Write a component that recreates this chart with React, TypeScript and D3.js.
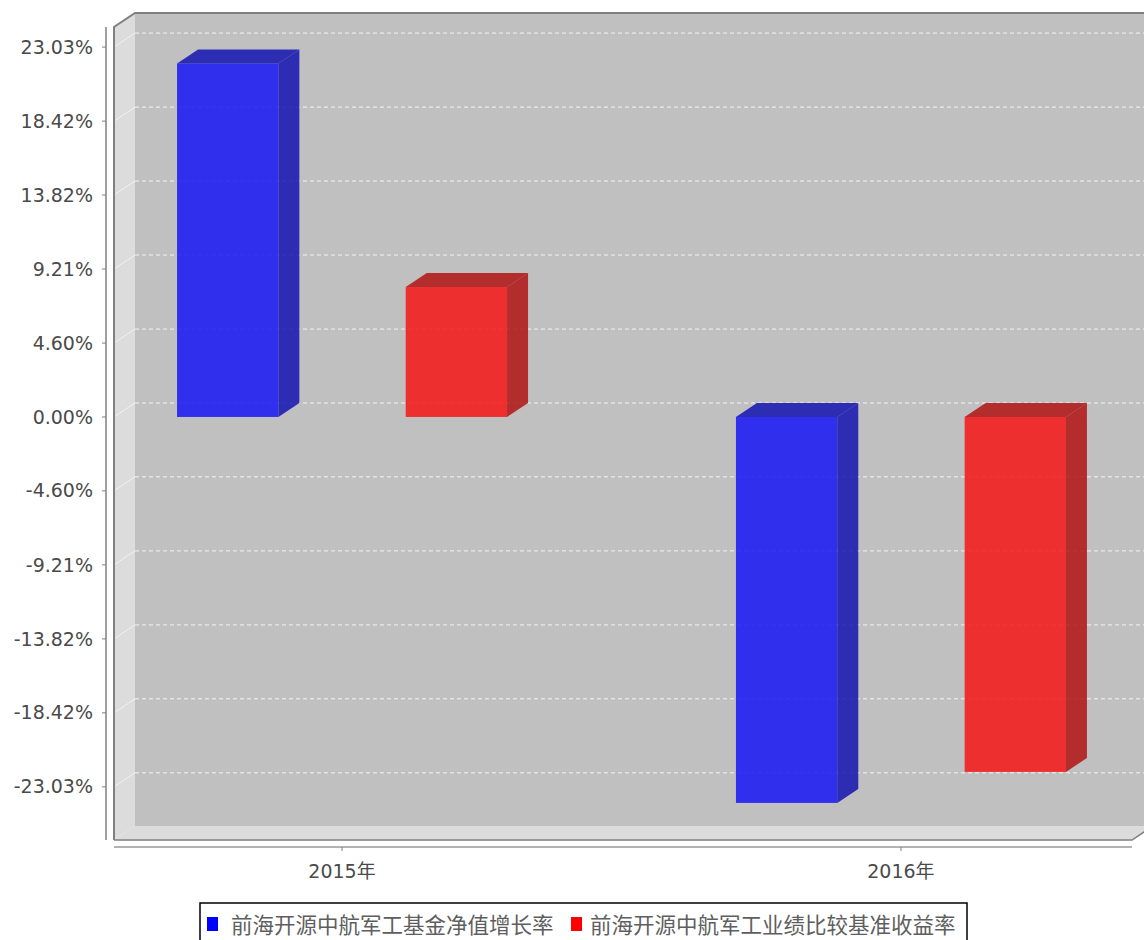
import * as d3 from "d3";

// ── Data ────────────────────────────────────────────────────────────────
const categories = ["2015年", "2016年"];
const seriesNames = ["前海开源中航军工基金净值增长率", "前海开源中航军工业绩比较基准收益率"];
const fundValues = [22.01, -24.03];      // 基金净值增长率 (%)
const benchmarkValues = [8.09, -22.1];   // 业绩比较基准收益率 (%)
const tickValues = [23.03, 18.42, 13.82, 9.21, 4.6, 0, -4.6, -9.21, -13.82, -18.42, -23.03];
const tickLabels = ["23.03%", "18.42%", "13.82%", "9.21%", "4.60%", "0.00%", "-4.60%", "-9.21%", "-13.82%", "-18.42%", "-23.03%"];

const seriesColors = [
  { front: "rgba(21,21,244,0.85)", dark: "rgba(19,19,178,0.85)", legend: "#0000ff" },
  { front: "rgba(244,21,21,0.85)", dark: "rgba(178,19,19,0.85)", legend: "#ff0000" },
];

const W = 1144;
const H = 940;
// front face of the 3D plot area
const left = 114;
const right = 1132;
const top = 27;
const bottom = 840;
const dx = 21; // 3D depth offset
const dy = 14;

const FONT = "'DejaVu Sans', 'Noto Sans CJK SC', sans-serif";

export default function App() {
  const y = d3.scaleLinear().domain([-26.34, 24.28]).range([bottom, top]);
  const x = d3.scalePoint<string>().domain(categories).range([left, right - 3]).padding(0.408);
  const inner = d3.scaleBand<number>().domain([0, 1]).range([-165, 165]).paddingInner(0.557).paddingOuter(0);
  const bw = inner.bandwidth();
  const series = [fundValues, benchmarkValues];

  const pts = (arr: number[][]) => arr.map((p) => p.join(",")).join(" ");

  return (
    <svg width={W} height={H} style={{ position: "absolute", left: 0, top: 0, fontFamily: FONT }}>
      <rect width={W} height={H} fill="#ffffff" />

      {/* ── walls ─────────────────────────────────────────────── */}
      <rect x={left + dx} y={top - dy} width={right - left} height={bottom - top} fill="#c0c0c0" />
      <polygon
        points={pts([[left, top], [left + dx, top - dy], [left + dx, bottom - dy], [left, bottom]])}
        fill="#dcdcdc"
      />
      <polygon
        points={pts([[left, bottom], [left + dx, bottom - dy], [right + dx, bottom - dy], [right, bottom]])}
        fill="#dcdcdc"
      />

      {/* ── gridlines ─────────────────────────────────────────── */}
      {tickValues.map((v, i) => (
        <g key={i}>
          <line
            x1={left} y1={y(v)} x2={left + dx} y2={y(v) - dy}
            stroke="#ffffff" strokeOpacity={0.6} strokeWidth={1}
          />
          <line
            x1={left + dx} x2={right + dx} y1={y(v) - dy} y2={y(v) - dy}
            stroke="#f4f4f4" strokeWidth={1} strokeDasharray="4 3"
          />
        </g>
      ))}

      {/* ── bars ──────────────────────────────────────────────── */}
      {categories.map((c, ci) =>
        series.map((vals, si) => {
          const v = vals[ci];
          const x0 = (x(c) ?? 0) + (inner(si) ?? 0);
          const y0 = y(Math.max(v, 0));
          const y1 = y(Math.min(v, 0));
          const col = seriesColors[si];
          return (
            <g key={`${ci}-${si}`}>
              <rect x={x0} y={y0} width={bw} height={y1 - y0} fill={col.front} />
              <polygon
                points={pts([[x0, y0], [x0 + dx, y0 - dy], [x0 + bw + dx, y0 - dy], [x0 + bw, y0]])}
                fill={col.dark}
              />
              <polygon
                points={pts([[x0 + bw, y0], [x0 + bw + dx, y0 - dy], [x0 + bw + dx, y1 - dy], [x0 + bw, y1]])}
                fill={col.dark}
              />
            </g>
          );
        })
      )}

      {/* ── plot outline ─────────────────────────────────────── */}
      <polyline
        points={pts([[left, bottom], [left, top], [left + dx, top - dy], [right + dx, top - dy]])}
        fill="none" stroke="#808080" strokeWidth={2}
      />
      <polyline
        points={pts([[left, bottom], [right, bottom], [right + dx, bottom - dy]])}
        fill="none" stroke="#808080" strokeWidth={1.5}
      />

      {/* ── value axis ───────────────────────────────────────── */}
      <line x1={106} x2={106} y1={top} y2={bottom} stroke="#808080" strokeWidth={1.5} />
      {tickValues.map((v, i) => (
        <g key={i}>
          <line x1={102} x2={106} y1={y(v)} y2={y(v)} stroke="#808080" />
          <text x={93} y={y(v)} dy="0.35em" textAnchor="end" fontSize={19} fill="#4a4a4a">
            {tickLabels[i]}
          </text>
        </g>
      ))}

      {/* ── category axis ────────────────────────────────────── */}
      <line x1={left} x2={right} y1={847} y2={847} stroke="#999999" strokeWidth={1.5} />
      {categories.map((c) => (
        <g key={c}>
          <line x1={x(c)} x2={x(c)} y1={847} y2={851} stroke="#808080" />
          <text x={x(c)} y={871} dy="0.35em" textAnchor="middle" fontSize={19} fill="#4a4a4a">
            {c}
          </text>
        </g>
      ))}

      {/* ── legend ───────────────────────────────────────────── */}
      <rect x={200} y={903} width={767} height={50} fill="#ffffff" stroke="#000000" strokeWidth={1.5} />
      <rect x={207} y={917} width={11} height={14} fill={seriesColors[0].legend} />
      <text x={231} y={925} dy="0.35em" fontSize={21.5} fill="#5e5e5e">{seriesNames[0]}</text>
      <rect x={571} y={917} width={11} height={14} fill={seriesColors[1].legend} />
      <text x={590} y={925} dy="0.35em" fontSize={21.5} fill="#5e5e5e">{seriesNames[1]}</text>
    </svg>
  );
}
